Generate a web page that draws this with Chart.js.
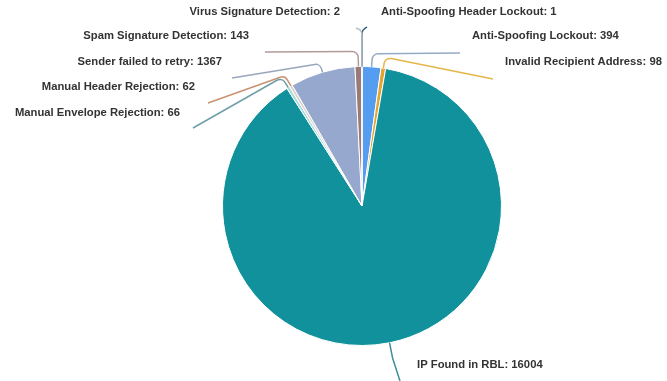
<!DOCTYPE html>
<html>
<head>
<meta charset="utf-8">
<script src="https://cdn.jsdelivr.net/npm/chart.js@4/dist/chart.umd.min.js"></script>
<style>
  html, body { margin: 0; padding: 0; background: #ffffff; }
  #wrap { width: 667px; height: 381px; }
</style>
</head>
<body>
<div id="wrap"><canvas id="c" width="667" height="381"></canvas></div>
<script>
// ---- data ----
const categories = [
  "Anti-Spoofing Header Lockout",
  "Anti-Spoofing Lockout",
  "Invalid Recipient Address",
  "IP Found in RBL",
  "Manual Envelope Rejection",
  "Manual Header Rejection",
  "Sender failed to retry",
  "Spam Signature Detection",
  "Virus Signature Detection"
];
const counts = [1, 394, 98, 16004, 66, 62, 1367, 143, 2];

// ---- styles ----
const sliceColors = ["#2c5d78", "#559df0", "#e3a52c", "#11919b", "#a6dde0", "#ddd3c8", "#97a8ce", "#9a7a76", "#c5ccd2"];
const lineColors  = ["#2f5f7a", "#95aac6", "#e6b64a", "#3f8f98", "#6f9ea8", "#c99272", "#9aa6bb", "#b39a9a", "#b8c0c6"];

// label layout relative to pie centre: radial extension, line end (dx,dy), text anchor (dx,dy), align
const labelLayout = [
  { ext: 36, end: [5, -179],   text: [19, -194],   align: "left"  },
  { ext: 13, end: [98, -153],  text: [110, -170],  align: "left"  },
  { ext: 11, end: [131, -127], text: [143, -144],  align: "left"  },
  { ext: 16, end: [38, 175],   text: [55, 159],    align: "left"  },
  { ext: 12, end: [-169, -78], text: [-182, -93],  align: "right" },
  { ext: 12, end: [-154, -103],text: [-167, -119], align: "right" },
  { ext: 9,  end: [-130, -128],text: [-140, -144], align: "right" },
  { ext: 15, end: [-97, -154], text: [-113, -170], align: "right" },
  { ext: 36, end: [-6, -178],  text: [-22, -194],  align: "right" }
];

const leaderPlugin = {
  id: "leaders",
  afterDatasetsDraw(chart) {
    const ctx = chart.ctx;
    const meta = chart.getDatasetMeta(0);
    meta.data.forEach((arc, i) => {
      const p = arc.getProps(["x", "y", "startAngle", "endAngle", "outerRadius"], true);
      const mid = (p.startAngle + p.endAngle) / 2;
      const r = p.outerRadius;
      const L = labelLayout[i];
      const sx = p.x + Math.cos(mid) * r, sy = p.y + Math.sin(mid) * r;
      const bx = p.x + Math.cos(mid) * (r + L.ext), by = p.y + Math.sin(mid) * (r + L.ext);
      const ex = p.x + L.end[0], ey = p.y + L.end[1];
      ctx.save();
      ctx.strokeStyle = lineColors[i];
      ctx.lineWidth = 1.5;
      ctx.beginPath();
      ctx.moveTo(sx, sy);
      ctx.arcTo(bx, by, ex, ey, 6);
      ctx.lineTo(ex, ey);
      ctx.stroke();
      ctx.fillStyle = "#333333";
      ctx.font = "bold 11.25px 'Liberation Sans', Arial, sans-serif";
      ctx.textAlign = L.align;
      ctx.textBaseline = "middle";
      ctx.fillText(categories[i] + ": " + counts[i], p.x + L.text[0], p.y + L.text[1]);
      ctx.restore();
    });
  }
};

new Chart(document.getElementById("c"), {
  type: "pie",
  data: {
    labels: categories,
    datasets: [{
      data: counts,
      backgroundColor: sliceColors,
      borderColor: "#ffffff",
      borderWidth: 1
    }]
  },
  options: {
    responsive: false,
    animation: false,
    layout: { padding: { top: 66, bottom: 35, left: 100, right: 43 } },
    plugins: { legend: { display: false }, tooltip: { enabled: false } }
  },
  plugins: [leaderPlugin]
});
</script>
</body>
</html>
